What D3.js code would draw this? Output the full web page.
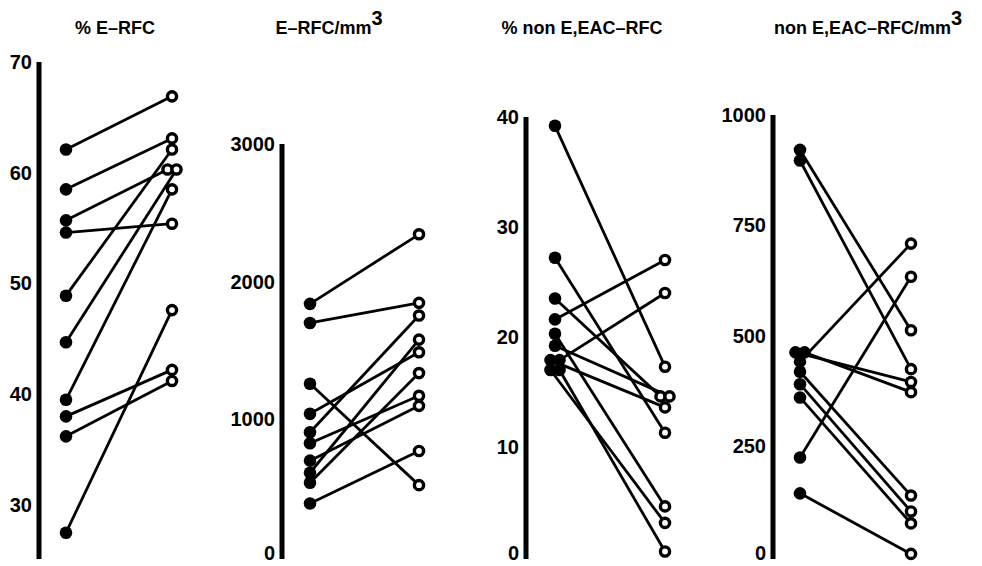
<!DOCTYPE html>
<html>
<head>
<meta charset="utf-8">
<script src="https://cdn.jsdelivr.net/npm/d3@7"></script>
<style>
  body { margin: 0; background: #fff; }
  text { font-family: "Liberation Sans", Arial, sans-serif; font-weight: bold; fill: #000; }
</style>
</head>
<body>
<svg id="chart" width="982" height="566"></svg>
<script>
// titles (sup = superscript part)
var titles = ['% E\u2013RFC', 'E\u2013RFC/mm', '% non E,EAC\u2013RFC', 'non E,EAC\u2013RFC/mm'];
var titleSups = ['', '3', '', '3'];

// tick labels
var erfcPctTicks = [30, 40, 50, 60, 70];
var erfcAbsTicks = [0, 1000, 2000, 3000];
var nonPctTicks = [0, 10, 20, 30, 40];
var nonAbsTicks = [0, 250, 500, 750, 1000];

// paired values, before (filled) -> after (open)
var erfcPctBefore = [62.1, 58.5, 55.7, 54.6, 48.9, 44.7, 39.5, 38.0, 36.2, 27.5];
var erfcPctAfter  = [66.9, 63.1, 60.3, 55.4, 62.1, 60.3, 58.5, 42.2, 41.2, 47.6];

var erfcAbsBefore = [1839, 1700, 1258, 1040, 906, 826, 700, 612, 539, 389];
var erfcAbsAfter  = [2344, 1846, 522, 1487, 1754, 1171, 1098, 1579, 1336, 770];

var nonPctBefore = [39.2, 27.2, 23.5, 21.6, 20.3, 19.2, 17.9, 17.9, 17.0, 17.0];
var nonPctAfter  = [17.3, 11.3, 14.6, 27.0, 4.6, 14.6, 13.6, 24.0, 3.1, 0.5];

var nonAbsBefore = [921, 897, 463, 463, 442, 419, 391, 361, 225, 144];
var nonAbsAfter  = [513, 425, 396, 373, 709, 139, 103, 76, 634, 7];

var panels = [
    { before: erfcPctBefore, after: erfcPctAfter, ticks: erfcPctTicks },
    { before: erfcAbsBefore, after: erfcAbsAfter, ticks: erfcAbsTicks },
    { before: nonPctBefore, after: nonPctAfter, ticks: nonPctTicks },
    { before: nonAbsBefore, after: nonAbsAfter, ticks: nonAbsTicks }
];

// where each panel sits on the page
var layout = [
    { axisX: 39,  leftX: 66,  rightX: 172, top: 62,  bottom: 505, titleX: 115 },
    { axisX: 282, leftX: 310, rightX: 419, top: 144, bottom: 557, titleX: 329 },
    { axisX: 526, leftX: 555, rightX: 665, top: 117, bottom: 557, titleX: 582 },
    { axisX: 773, leftX: 800, rightX: 911, top: 115, bottom: 557, titleX: 868 }
];
var axisEnd = 559;

var svg = d3.select('#chart');

// spread points that share the same value side by side
function offsets(values) {
    var groups = d3.group(values.map(function (v, i) { return i; }), function (i) { return values[i]; });
    var off = values.map(function () { return 0; });
    groups.forEach(function (idx) {
        idx.forEach(function (i, k) { off[i] = (k - (idx.length - 1) / 2) * 9; });
    });
    return off;
}

panels.forEach(function (p, n) {
    var L = layout[n];
    var y = d3.scaleLinear()
        .domain([d3.min(p.ticks), d3.max(p.ticks)])
        .range([L.bottom, L.top]);
    var x = d3.scalePoint().domain(['before', 'after']).range([L.leftX, L.rightX]);
    var g = svg.append('g');

    // title
    var t = g.append('text')
        .attr('x', L.titleX)
        .attr('y', 34)
        .attr('text-anchor', 'middle')
        .style('font-size', '18px')
        .text(titles[n]);
    if (titleSups[n]) {
        t.append('tspan').attr('dy', -9).style('font-size', '20px').text(titleSups[n]);
    }

    // thick axis line
    g.append('line')
        .attr('x1', L.axisX).attr('x2', L.axisX)
        .attr('y1', y(d3.max(p.ticks))).attr('y2', axisEnd)
        .attr('stroke', '#000').attr('stroke-width', 5);

    var ax = g.append('g')
        .attr('transform', 'translate(' + (L.axisX - 2) + ',0)')
        .call(d3.axisLeft(y).tickValues(p.ticks).tickSize(0).tickPadding(5).tickFormat(d3.format('d')));
    ax.select('.domain').remove();
    ax.selectAll('text')
        .style('font-size', '20px')
        .style('font-family', '"Liberation Sans", Arial, sans-serif')
        .style('font-weight', 'bold');
    // keep the bottom "0" inside the page
    ax.selectAll('text').filter(function (d) { return d === 0; }).attr('dy', '0.12em');

    var offB = offsets(p.before), offA = offsets(p.after);
    var pairs = p.before.map(function (b, i) {
        return { b: b, a: p.after[i], ob: offB[i], oa: offA[i] };
    });

    g.selectAll('line.pair').data(pairs).enter().append('line')
        .attr('class', 'pair')
        .attr('x1', function (d) { return x('before') + d.ob; })
        .attr('y1', function (d) { return y(d.b); })
        .attr('x2', function (d) { return x('after') + d.oa; })
        .attr('y2', function (d) { return y(d.a); })
        .attr('stroke', '#000').attr('stroke-width', 2.8);

    g.selectAll('circle.before').data(pairs).enter().append('circle')
        .attr('class', 'before')
        .attr('cx', function (d) { return x('before') + d.ob; })
        .attr('cy', function (d) { return y(d.b); })
        .attr('r', 6.3)
        .attr('fill', '#000');

    g.selectAll('circle.after').data(pairs).enter().append('circle')
        .attr('class', 'after')
        .attr('cx', function (d) { return x('after') + d.oa; })
        .attr('cy', function (d) { return y(d.a); })
        .attr('r', 4.6)
        .attr('fill', '#fff')
        .attr('stroke', '#000').attr('stroke-width', 3.4);
});
</script>
</body>
</html>
